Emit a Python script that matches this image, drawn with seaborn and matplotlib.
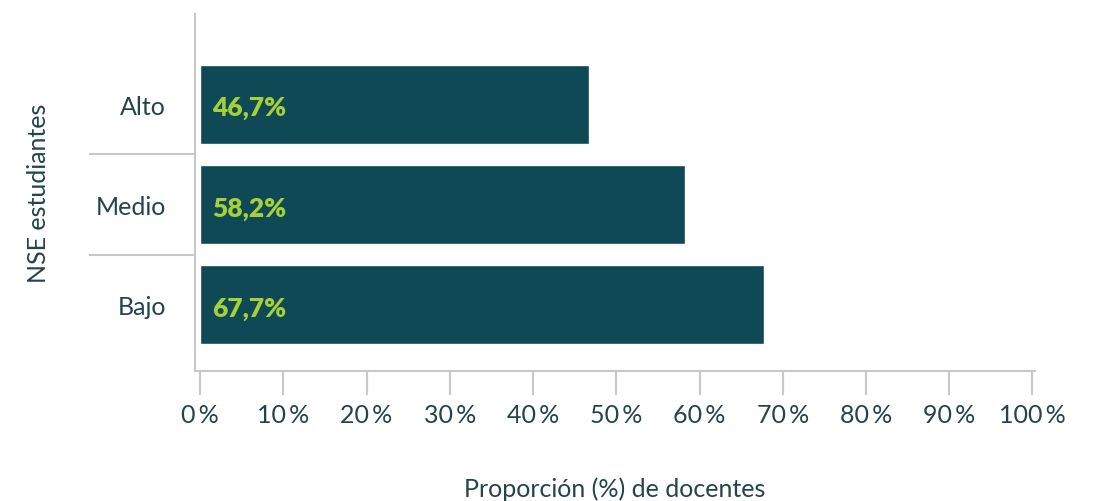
import matplotlib
matplotlib.use("Agg")
import matplotlib.pyplot as plt
import seaborn as sns
import pandas as pd
from matplotlib.ticker import FixedLocator, FuncFormatter

# data
categorias = ["Alto", "Medio", "Bajo"]
proporcion = [46.7, 58.2, 67.7]
etiquetas = ["46,7%", "58,2%", "67,7%"]
ticks_x = [0, 10, 20, 30, 40, 50, 60, 70, 80, 90, 100]

bar_color = "#0e4955"
label_color = "#a5d038"
text_color = "#24434b"
line_color = "#c8c8c8"

sns.set_theme(style="white")
plt.rcParams["font.family"] = ["Lato", "DejaVu Sans"]

df = pd.DataFrame({"nse": categorias, "prop": proporcion})

fig = plt.figure(figsize=(11, 5.02), dpi=100)
ax = fig.add_axes([0.1773, 0.259, 0.7636, 0.711])

sns.barplot(data=df, x="prop", y="nse", color=bar_color, width=0.79,
            saturation=1, ax=ax)

# value labels inside the bars
for i, txt in enumerate(etiquetas):
    ax.text(1.4, i + 0.03, txt, color=label_color, fontsize=19,
            fontweight="heavy", va="center", ha="left")

ax.set_xlim(-0.6, 100.3)
ax.set_ylim(2.66, -0.9)

ax.xaxis.set_major_locator(FixedLocator(ticks_x))
ax.xaxis.set_major_formatter(FuncFormatter(lambda v, p: f"{v:.0f}\u2009%"))
ax.tick_params(axis="x", which="major", direction="out", length=17,
               width=1.5, color=line_color, pad=6, labelsize=18,
               labelcolor=text_color, bottom=True)

# separator lines between categories
ax.yaxis.set_minor_locator(FixedLocator([0.5, 1.5]))
ax.tick_params(axis="y", which="major", length=0, pad=21, labelsize=18,
               labelcolor=text_color)
ax.tick_params(axis="y", which="minor", direction="out", length=76,
               width=1.5, color=line_color, left=True)

for side in ["top", "right"]:
    ax.spines[side].set_visible(False)
for side in ["left", "bottom"]:
    ax.spines[side].set_color(line_color)
    ax.spines[side].set_linewidth(1.5)

ax.set_xlabel("Proporción (%) de docentes", fontsize=18, color=text_color,
              labelpad=36)
ax.set_ylabel("NSE estudiantes", fontsize=18, color=text_color, labelpad=25)

fig.savefig("out.png", dpi=100)
